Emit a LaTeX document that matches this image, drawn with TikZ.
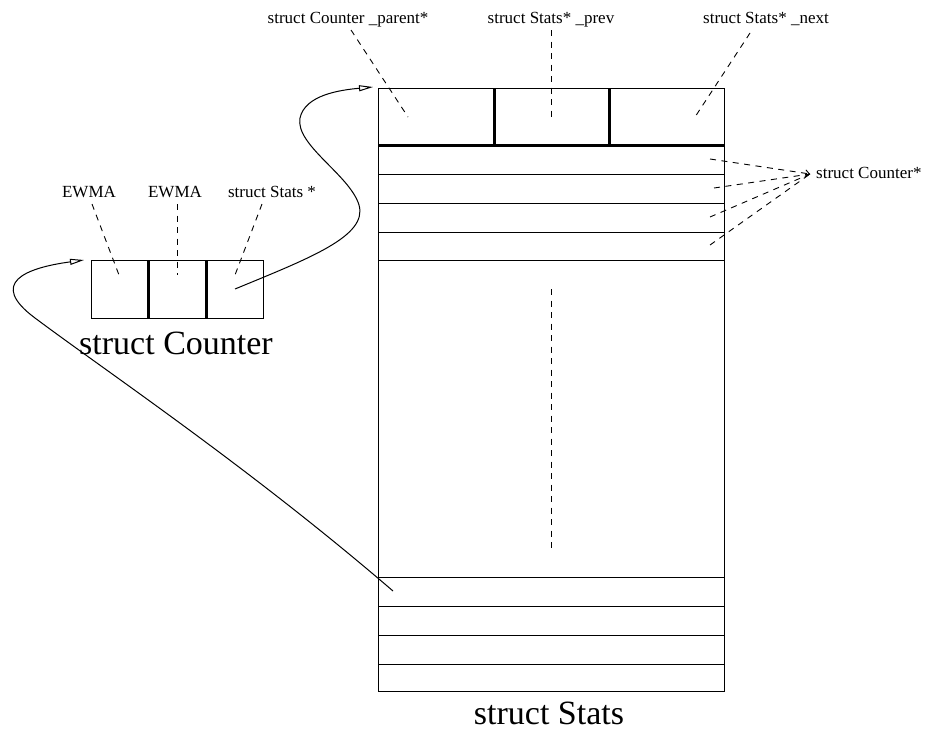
\documentclass[tikz,border=0pt]{standalone}
\usepackage{fontspec}
\setmainfont{Liberation Serif}
\usetikzlibrary{arrows.meta}

\begin{document}
\begin{tikzpicture}[x=1pt, y=-1pt,
  thin line/.style={line width=1pt},
  thick line/.style={line width=3pt},
  leader/.style={line width=0.9pt, dash pattern=on 6pt off 5.5pt},
  pointer/.style={line width=1pt, -{Triangle[open, length=14pt, width=6pt]}},
  small label/.style={font=\fontsize{17}{20}\selectfont, anchor=base, inner sep=0pt},
  big label/.style={font=\fontsize{34}{40}\selectfont, anchor=base, inner sep=0pt},
  frame/.style={draw, thin line, inner sep=0pt, outer sep=0pt}]

\useasboundingbox (0,0) rectangle (925,734);

% ---------- struct Counter ----------
\node[frame, minimum width=172pt, minimum height=58pt] (counter) at (177,289) {};
\draw[thick line] (148,260) -- (148,318);
\draw[thick line] (206,260) -- (206,318);
\node[big label] (counterlbl) at (176,354) {struct Counter};

\node[small label] (ewmaA) at (89,197) {EWMA};
\node[small label] (ewmaB) at (175,197) {EWMA};
\node[small label] (statsptr) at (272,197) {struct Stats *};

\coordinate (ewmaAtop) at (92,204);
\coordinate (ewmaAend) at (119,275);
\coordinate (ewmaBtop) at (177,204);
\coordinate (ewmaBend) at (177,275);
\coordinate (statstop) at (262,204);
\coordinate (statsend) at (235,275);
\draw[leader] (ewmaAtop) -- (ewmaAend);
\draw[leader] (ewmaBtop) -- (ewmaBend);
\draw[leader] (statstop) -- (statsend);

% ---------- struct Stats ----------
\node[frame, minimum width=346pt, minimum height=603pt] (stats) at (551,389.5) {};
\draw[thick line] (378,145) -- (724,145);
\draw[thick line] (494,88) -- (494,145);
\draw[thick line] (609,88) -- (609,145);
\foreach \yy in {174,203,232,260,577,606,635,664}
  \draw[thin line] (378,\yy) -- (724,\yy);
\coordinate (gaptop) at (551,289);
\coordinate (gapbot) at (551,548);
\draw[leader] (gaptop) -- (gapbot);
\node[big label] (statslbl) at (549,724) {struct Stats};

\node[small label] (parentlbl) at (348,23) {struct Counter \_parent*};
\node[small label] (prevlbl) at (551,23) {struct Stats* \_prev};
\node[small label] (nextlbl) at (766,23) {struct Stats* \_next};

\coordinate (parenttop) at (351,30);
\coordinate (parentend) at (408,117);
\coordinate (prevtop) at (551,30);
\coordinate (prevend) at (551,117);
\coordinate (nexttop) at (750,33);
\coordinate (nextend) at (695,117);
\draw[leader] (parenttop) -- (parentend);
\draw[leader] (prevtop) -- (prevend);
\draw[leader] (nexttop) -- (nextend);

% counter pointers held in the rows
\node[small label, anchor=base west] (cntlbl) at (816,178) {struct Counter*};
\coordinate (fan) at (810,174);
\coordinate (rowA) at (710,159);
\coordinate (rowB) at (714,188);
\coordinate (rowC) at (710,217);
\coordinate (rowD) at (710,245);
\draw[leader, -{Straight Barb[length=4pt, width=7pt]}] (rowA) -- (fan);
\draw[leader] (rowB) -- (fan);
\draw[leader] (rowC) -- (fan);
\draw[leader] (rowD) -- (fan);

% ---------- links between the structures ----------
\coordinate (cellthree) at (235,289);
\coordinate (statscorner) at (373,87);
\draw[pointer] (cellthree)
  .. controls (310,258) and (368,236) .. (359,205)
  .. controls (350,175) and (295,145) .. (300,118)
  .. controls (305,95) and (340,90) .. (statscorner);

\coordinate (rowlink) at (393,591);
\coordinate (countercorner) at (84,260);
\draw[pointer] (rowlink)
  .. controls (250,468) and (110,374) .. (35,318)
  .. controls (-12,283) and (25,268) .. (countercorner);

\end{tikzpicture}
\end{document}
